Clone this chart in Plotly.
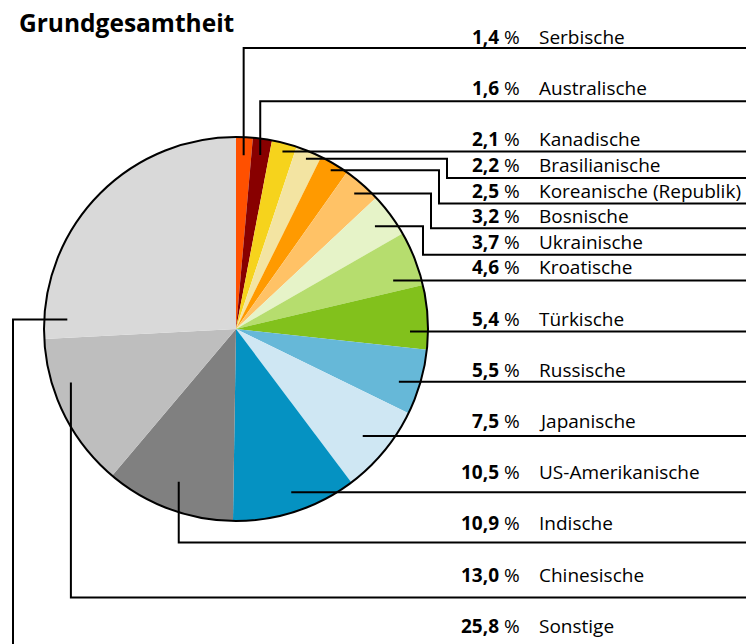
import math
import plotly.graph_objects as go

# ---------------- data ----------------
names = ["Serbische", "Australische", "Kanadische", "Brasilianische",
         "Koreanische (Republik)", "Bosnische", "Ukrainische", "Kroatische",
         "Türkische", "Russische", "Japanische", "US-Amerikanische",
         "Indische", "Chinesische", "Sonstige"]
values = [1.4, 1.6, 2.1, 2.2, 2.5, 3.2, 3.7, 4.6, 5.4, 5.5, 7.5, 10.5, 10.9, 13.0, 25.8]
colors = ["#ff5000", "#880000", "#f6d31c", "#f3e4a2", "#ff9a00", "#ffc266",
          "#e6f3c8", "#b6dd6e", "#82c11c", "#66b8d8", "#cfe7f3", "#0592c2",
          "#808080", "#bebebe", "#d9d9d9"]
title_text = "Grundgesamtheit"

# ---------------- layout constants (pixels) ----------------
W, H = 746, 644
CX, CY, R = 236, 329, 192
ROW_Y0, ROW_STEP = 37, 25.6
rows = [0, 2, 4, 5, 6, 7, 8, 9, 11, 13, 15, 17, 19, 21, 23]
line_dy = [11, 13, 12, 13, 13, 12, 13, 13, 13, 12, 15, 20, 19, 23, 0]
kind = ["v", "v", "h", "s", "s", "s", "s", "h", "h", "h", "h", "h", "v", "v", "left"]
anchor_frac = [0.5] * 13 + [0.68, 0.067]
anchor_r = [0.906, 0.915, 0.96, 0.958, 0.963, 0.937, 0.90, 0.88, 0.908, 0.883,
            0.856, 0.93, 0.85, 0.904, 0.88]
STEP_X0, STEP_DX = 447, 8
PCT_X, NAME_X = 522, 537
FONT = "Open Sans"
FS = 19


def px(x):
    return x / W


def py(y):
    return 1 - y / H


fig = go.Figure()
fig.add_trace(go.Pie(
    values=values, labels=names, sort=False, direction="clockwise", rotation=0,
    marker=dict(colors=colors, line=dict(width=0)),
    textinfo="none", hoverinfo="label+percent", showlegend=False,
    domain=dict(x=[px(CX - R), px(CX + R)], y=[py(CY + R), py(CY - R)]),
))

shapes = []
# outer outline
shapes.append(dict(type="circle", xref="paper", yref="paper",
                   x0=px(CX - R), x1=px(CX + R), y0=py(CY + R), y1=py(CY - R),
                   line=dict(color="black", width=2)))

total = sum(values)
cum = 0.0
step_i = 0
annotations = []
for i, (n, v) in enumerate(zip(names, values)):
    a0 = cum / total * 360
    a1 = (cum + v) / total * 360
    cum += v
    ang = math.radians(a0 + (a1 - a0) * anchor_frac[i])
    rr = anchor_r[i] * R
    ax = CX + rr * math.sin(ang)
    ay = CY - rr * math.cos(ang)
    ty = ROW_Y0 + rows[i] * ROW_STEP
    ly = ty + line_dy[i]
    k = kind[i]
    if k == "v":
        pts = [(ax, ay), (ax, ly), (W + 5, ly)]
    elif k == "h":
        pts = [(ax, ly), (W + 5, ly)]
    elif k == "s":
        sx = STEP_X0 - STEP_DX * step_i
        step_i += 1
        pts = [(ax, ay), (sx, ay), (sx, ly), (W + 5, ly)]
    else:
        pts = [(ax, ay), (13, ay), (13, H + 5)]
    path = "M " + " L ".join(f"{px(x):.5f},{py(y):.5f}" for x, y in pts)
    shapes.append(dict(type="path", xref="paper", yref="paper", path=path,
                       line=dict(color="black", width=2)))

    pct = f"{v:.1f}".replace(".", ",")
    annotations.append(dict(x=px(PCT_X), y=py(ty), xref="paper", yref="paper",
                            xanchor="right", yanchor="middle", showarrow=False,
                            text=f"<b>{pct}</b> %",
                            font=dict(family=FONT, size=FS, color="black")))
    annotations.append(dict(x=px(NAME_X), y=py(ty), xref="paper", yref="paper",
                            xanchor="left", yanchor="middle", showarrow=False,
                            text=n, font=dict(family=FONT, size=FS, color="black")))

annotations.append(dict(x=px(17), y=py(22), xref="paper", yref="paper",
                        xanchor="left", yanchor="middle", showarrow=False,
                        text=f"<b>{title_text}</b>",
                        font=dict(family=FONT, size=24.5, color="black")))

fig.update_layout(width=W, height=H, margin=dict(l=0, r=0, t=0, b=0),
                  paper_bgcolor="white", plot_bgcolor="white",
                  shapes=shapes, annotations=annotations)

fig.write_html("out.html", config={"displayModeBar": False},
               post_script="document.body.style.margin='0';")
